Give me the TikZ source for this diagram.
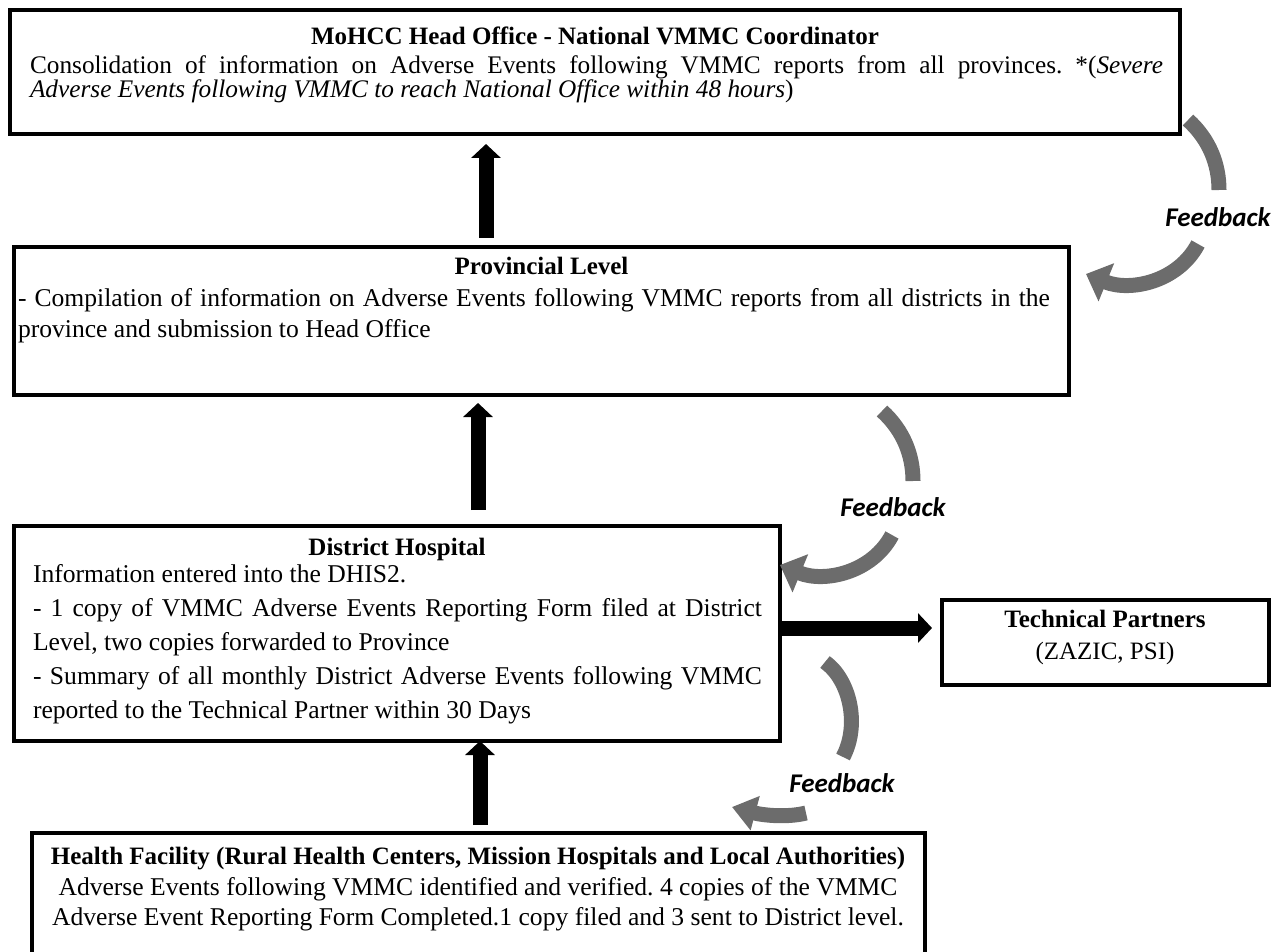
\documentclass[tikz,border=0pt]{standalone}
\usepackage{fontspec}
\setmainfont{Liberation Serif}
\newfontfamily\fbfont{Carlito}
\usetikzlibrary{arrows.meta,calc}
\definecolor{fbgray}{RGB}{108,108,108}
\begin{document}
\frenchspacing
\hyphenpenalty=10000
\begin{tikzpicture}[x=1pt,y=-1pt,
  box/.style={draw=black, line width=4pt, fill=white, inner sep=0pt, outer sep=0pt, anchor=north west},
  ttl/.style={inner sep=0pt, outer sep=0pt, anchor=base, font=\fontsize{25}{30}\selectfont\bfseries},
  body/.style={inner sep=0pt, outer sep=0pt, anchor=base west, align=justify},
  uparrow/.style={line width=15pt, -{Triangle[width=29pt,length=14pt]}},
  fbband/.style={draw=fbgray, line width=15pt},
  fbarrow/.style={fbband, -{Triangle[width=40pt,length=22pt]}},
  fbtxt/.style={inner sep=0pt, font=\fbfont\bfseries\itshape\fontsize{27}{30}\selectfont},
]
\useasboundingbox (0,0) rectangle (1283,952);

% boxes
\node[box, minimum width=1169.5pt, minimum height=124pt] (top) at (10,10) {};
\node[box, minimum width=1055pt, minimum height=148pt] (prov) at (14,247) {};
\node[box, minimum width=766pt, minimum height=215pt] (dist) at (14,526) {};
\node[box, minimum width=327pt, minimum height=85pt] (tech) at (942,600) {};
\node[box, minimum width=893pt, minimum height=150pt] (hf) at (32,833) {};

% texts
\node[ttl] (topt) at (595,45) {MoHCC Head Office - National VMMC Coordinator};
\node[body, text width=1133pt, font=\fontsize{25.3}{24}\selectfont] (topb) at (30,74)
  {Consolidation of information on Adverse Events following VMMC reports from all provinces. *(\textit{Severe}\linebreak \textit{Adverse Events following VMMC to reach National Office within 48 hours})};

\node[ttl] (provt) at (541.5,275) {Provincial Level};
\node[body, text width=1032pt, font=\fontsize{25.6}{32}\selectfont] (provb) at (18,306)
  {- Compilation of information on Adverse Events following VMMC reports from all districts in the\linebreak province and submission to Head Office};

\node[ttl] (distt) at (397,555) {District Hospital};
\node[body, text width=729pt, font=\fontsize{25.6}{34}\selectfont] (distb) at (33,582)
  {Information entered into the DHIS2.\par
   - 1 copy of VMMC Adverse Events Reporting Form filed at District\linebreak Level, two copies forwarded to Province\par
   - Summary of all monthly District Adverse Events following VMMC\linebreak reported to the Technical Partner within 30 Days};

\node[ttl] (techt) at (1105,627) {Technical Partners};
\node[inner sep=0pt, anchor=base, font=\fontsize{25}{30}\selectfont] (techb) at (1105,659) {(ZAZIC, PSI)};

\node[ttl] (hft) at (478,864) {Health Facility (Rural Health Centers, Mission Hospitals and Local Authorities)};
\node[inner sep=0pt, anchor=base, align=center, font=\fontsize{25.6}{30}\selectfont] (hfb) at (478,925)
  {Adverse Events following VMMC identified and verified. 4 copies of the VMMC\\
   Adverse Event Reporting Form Completed.1 copy filed and 3 sent to District level.};

% block arrows
\draw[uparrow, shorten <=9pt, shorten >=10pt] (486,0 |- prov.north) -- (486,0 |- top.south);
\draw[uparrow, shorten <=16pt, shorten >=8pt] (478,0 |- dist.north) -- (478,0 |- prov.south);
\draw[uparrow, shorten <=8pt] (480,0 |- hf.north) -- (480,0 |- dist.south);
\draw[uparrow, shorten >=10pt] (dist.east |- 0,628) -- (tech.west |- 0,628);

% feedback arrows
\coordinate (f1a) at (1188,120);
\coordinate (f1b) at (1219,190);
\coordinate (f1c) at (1198,244);
\coordinate (f1d) at (1086,274);
\draw[fbband] (f1a) .. controls (1210,140) and (1219,165) .. (f1b);
\draw[fbarrow] (f1c) .. controls (1178,282) and (1130,292) .. (f1d);
\node[fbtxt] (fb1) at (1218,217) {Feedback};

\coordinate (f2a) at (882,411);
\coordinate (f2b) at (913,481);
\coordinate (f2c) at (892,535);
\coordinate (f2d) at (780,565);
\draw[fbband] (f2a) .. controls (904,431) and (913,456) .. (f2b);
\draw[fbarrow] (f2c) .. controls (872,573) and (824,583) .. (f2d);
\node[fbtxt] (fb2) at (893,507) {Feedback};

\coordinate (f3a) at (825,662);
\coordinate (f3b) at (843,757);
\coordinate (f3c) at (806,813);
\coordinate (f3d) at (732,807);
\draw[fbband] (f3a) .. controls (850,680) and (860,725) .. (f3b);
\draw[fbband, -{Triangle[width=34pt,length=24pt]}] (f3c) .. controls (786,818) and (762,815) .. (f3d);
\node[fbtxt] (fb3) at (842,783) {Feedback};
\end{tikzpicture}
\end{document}
